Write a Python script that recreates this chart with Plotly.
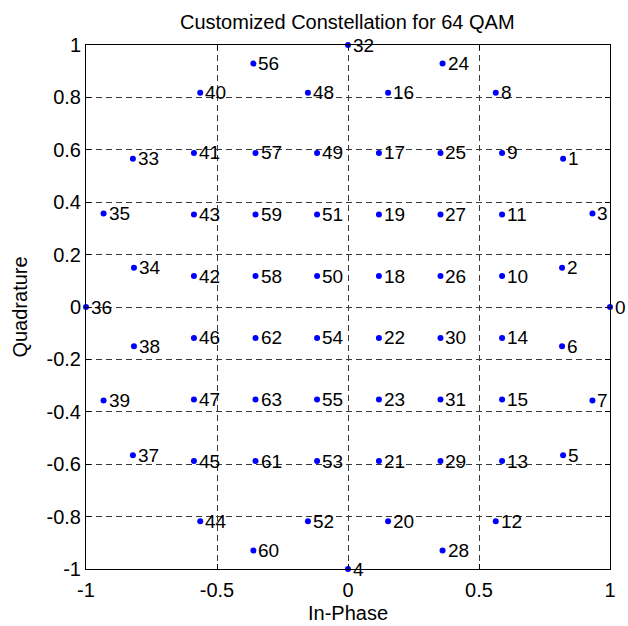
import plotly.graph_objects as go

# Symbol indices and their In-Phase / Quadrature coordinates
symbols = list(range(64))
in_phase = [
    1.000, 0.821, 0.817, 0.933, 0.000, 0.821, 0.817, 0.933,
    0.564, 0.588, 0.588, 0.588, 0.564, 0.588, 0.588, 0.588,
    0.153, 0.118, 0.118, 0.118, 0.153, 0.118, 0.118, 0.118,
    0.361, 0.353, 0.353, 0.353, 0.361, 0.353, 0.353, 0.353,
    0.000, -0.821, -0.817, -0.933, -1.000, -0.821, -0.817, -0.933,
    -0.564, -0.588, -0.588, -0.588, -0.564, -0.588, -0.588, -0.588,
    -0.153, -0.118, -0.118, -0.118, -0.153, -0.118, -0.118, -0.118,
    -0.361, -0.353, -0.353, -0.353, -0.361, -0.353, -0.353, -0.353,
]
quadrature = [
    0.000, 0.566, 0.150, 0.357, -1.000, -0.566, -0.150, -0.357,
    0.818, 0.588, 0.118, 0.353, -0.818, -0.588, -0.118, -0.353,
    0.818, 0.588, 0.118, 0.353, -0.818, -0.588, -0.118, -0.353,
    0.929, 0.588, 0.118, 0.353, -0.929, -0.588, -0.118, -0.353,
    1.000, 0.566, 0.150, 0.357, 0.000, -0.566, -0.150, -0.357,
    0.818, 0.588, 0.118, 0.353, -0.818, -0.588, -0.118, -0.353,
    0.818, 0.588, 0.118, 0.353, -0.818, -0.588, -0.118, -0.353,
    0.929, 0.588, 0.118, 0.353, -0.929, -0.588, -0.118, -0.353,
]

x_tickvals = [-1, -0.5, 0, 0.5, 1]
x_ticktext = ["-1", "-0.5", "0", "0.5", "1"]
y_tickvals = [-1, -0.8, -0.6, -0.4, -0.2, 0, 0.2, 0.4, 0.6, 0.8, 1]
y_ticktext = ["-1", "-0.8", "-0.6", "-0.4", "-0.2", "0", "0.2", "0.4", "0.6", "0.8", "1"]

FONT = "Liberation Sans, Arial, sans-serif"

fig = go.Figure()
fig.add_trace(go.Scatter(
    x=in_phase, y=quadrature, mode="markers",
    marker=dict(color="#0000FF", size=6, line=dict(width=0)),
    cliponaxis=False, showlegend=False, hoverinfo="skip",
))

annotations = [
    dict(x=xv, y=yv, text=str(s), xref="x", yref="y", showarrow=False,
         xanchor="left", yanchor="middle", xshift=3, borderpad=1,
         font=dict(family=FONT, size=19, color="black"))
    for s, xv, yv in zip(symbols, in_phase, quadrature)
]

axis_common = dict(
    showline=True, linecolor="black", linewidth=1, mirror="ticks",
    ticks="inside", ticklen=5, tickcolor="black",
    showgrid=True, gridcolor="#3a3a3a", gridwidth=1, griddash="6px,4px",
    zeroline=False, tickfont=dict(family=FONT, size=20, color="black"),
    fixedrange=True,
)

fig.update_layout(
    width=628, height=626,
    margin=dict(l=86, r=18, t=45, b=57, autoexpand=False),
    paper_bgcolor="white", plot_bgcolor="white",
    title=dict(text="Customized Constellation for 64 QAM", x=0.553, xanchor="center",
               y=1 - 22 / 626, yanchor="middle", yref="container",
               font=dict(family=FONT, size=20, color="black")),
    xaxis=dict(range=[-1, 1], tickvals=x_tickvals, ticktext=x_ticktext,
               title=dict(text="In-Phase", standoff=5, font=dict(family=FONT, size=20, color="black")),
               ticklabelstandoff=3, **axis_common),
    yaxis=dict(range=[-1, 1], tickvals=y_tickvals, ticktext=y_ticktext,
               title=dict(text="Quadrature", standoff=13, font=dict(family=FONT, size=20, color="black")),
               **axis_common),
    annotations=annotations,
    showlegend=False,
)

fig.write_html("out.html")
